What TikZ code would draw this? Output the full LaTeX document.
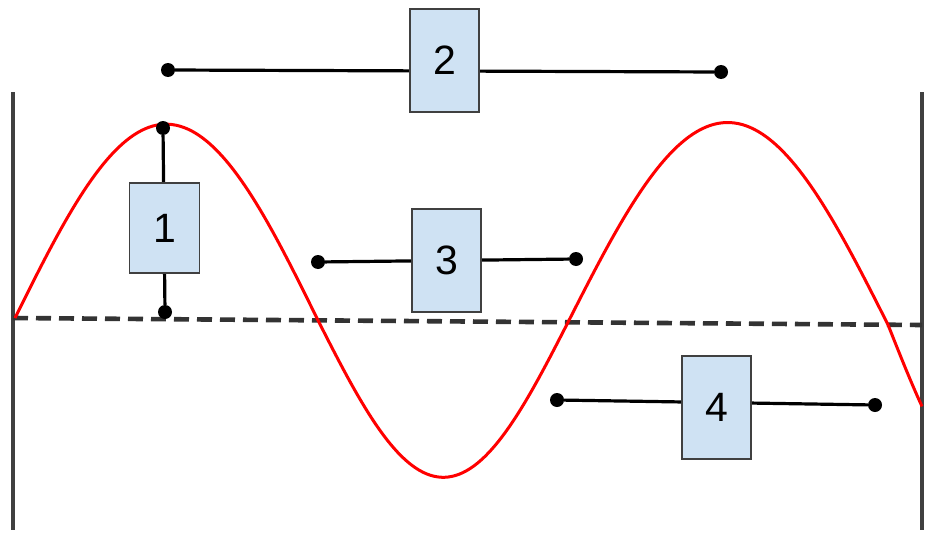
\documentclass[tikz,border=0pt]{standalone}
\usepackage{fontspec}
\setmainfont{Liberation Sans}
\usepackage{tikz}
\usetikzlibrary{positioning}
\definecolor{boxblue}{HTML}{CFE2F3}
\definecolor{rimgray}{HTML}{404040}

\begin{document}
\begin{tikzpicture}[x=1pt, y=-1pt]
 \tikzstyle{box} = [draw=rimgray, fill=boxblue, line width=1.6pt, rectangle, inner sep=0pt, minimum width=69pt, minimum height=103pt, font=\fontsize{41}{48}\selectfont]
 \tikzstyle{dot} = [fill=black, circle, inner sep=0pt, minimum size=14pt]
 \tikzstyle{link} = [line width=3.2pt, black]
 \tikzstyle{wall} = [line width=3.6pt, rimgray]
 \tikzstyle{wave} = [line width=3pt, red]

 \useasboundingbox (0,0) rectangle (931,535);

 % walls and zero line
 \coordinate (wl1) at (13,92);
 \coordinate (wl2) at (13,530);
 \coordinate (wr1) at (922,92);
 \coordinate (wr2) at (922,530);
 \coordinate (z1) at (13,318);
 \coordinate (z2) at (922,325);
 \draw [wall] (wl1) -- (wl2);
 \draw [wall] (wr1) -- (wr2);
 \draw [wall, line width=4.6pt, black!80, dash pattern=on 15pt off 8pt] (z1) -- (z2);

 % the wave
 \draw [wave, line join=round] plot[domain=15:318, samples=80] (\x, {318+(\x-15)/907*7 - 195*sin((\x-15)/303*180)})
   -- plot[domain=318:568, samples=70] (\x, {318+(\x-15)/907*7 + 156*sin((\x-318)/250*180)})
   -- plot[domain=568:888, samples=80] (\x, {318+(\x-15)/907*7 - 201*sin((\x-568)/320*180)})
   -- plot[domain=888:922, samples=15] (\x, {318+(\x-15)/907*7 + 160*sin((\x-888)/200*180)});

 % end points
 \node [dot] (p1a) at (163,128) {};
 \node [dot] (p1b) at (165,312) {};
 \node [dot] (p2a) at (168,70) {};
 \node [dot] (p2b) at (721,72) {};
 \node [dot] (p3a) at (318,262) {};
 \node [dot] (p3b) at (576,259) {};
 \node [dot] (p4a) at (557,400) {};
 \node [dot] (p4b) at (875,405) {};

 \draw [link] (p1a) -- (p1b);
 \draw [link] (p2a) -- (p2b);
 \draw [link] (p3a) -- (p3b);
 \draw [link] (p4a) -- (p4b);

 % labels
 \node [box, minimum width=70pt, minimum height=90pt] (b1) at (164.5,228) {1};
 \node [box] (b2) at (444.5,60.5) {2};
 \node [box] (b3) at (446.5,260.5) {3};
 \node [box] (b4) at (716.5,407.5) {4};
\end{tikzpicture}
\end{document}
